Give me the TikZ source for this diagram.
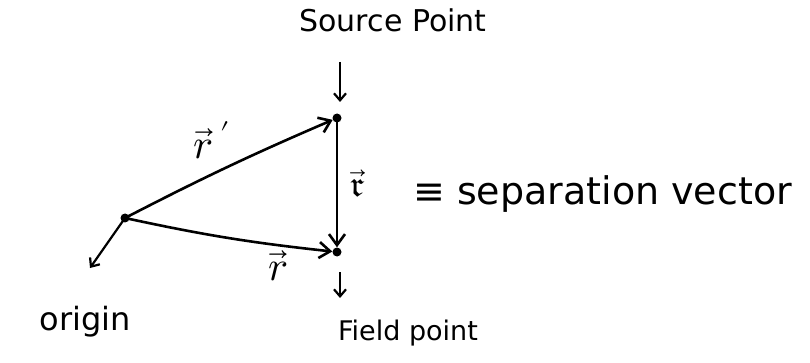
\documentclass[tikz,border=0pt]{standalone}
\usepackage{unicode-math}
\usepackage{fontspec}
\setmainfont{DejaVu Sans}
\usetikzlibrary{arrows.meta}
\begin{document}
\begin{tikzpicture}[x=1pt,y=-1pt,
  vec/.style={line width=2.6pt,-{Straight Barb[length=11pt,width=16pt]}},
  pt/.style={circle,fill=black,inner sep=0pt,minimum size=9pt},
  lbl/.style={font=\fontsize{30}{34}\selectfont,inner sep=1pt},
  mlbl/.style={font=\fontsize{42}{46}\selectfont,inner sep=1pt},
  ptr/.style={line width=2.2pt,-{Straight Barb[length=7pt,width=12pt]}}]
\useasboundingbox (0,0) rectangle (810,363);
\node[pt] (O) at (125,218) {};
\node[pt] (S) at (337,118) {};
\node[pt] (F) at (337,252) {};
\coordinate (Oend) at (90,268);
\coordinate (Stop) at (340,62);
\coordinate (Sbot) at (340,102);
\coordinate (Ftop) at (340,272);
\coordinate (Fbot) at (340,298);
\draw[vec] (O.center) to[bend left=2] (S);
\draw[vec] (O.center) to[bend right=3] (F);
\draw[vec] (S.center) -- (F);
\draw[ptr] (O.center) -- (Oend);
\draw[ptr] (Stop) -- (Sbot);
\draw[ptr] (Ftop) -- (Fbot);
\node[lbl] (src) at (393,20) {Source Point};
\node[lbl,font=\fontsize{27}{30}\selectfont] (fld) at (408,333) {Field point};
\node[lbl,font=\fontsize{32}{36}\selectfont] (org) at (85,322) {origin};
\node[mlbl] (rp) at (212,140) {$\vec{r}\,'$};
\node[mlbl] (r) at (278,266) {$\vec{r}$};
\node[mlbl,font=\fontsize{36}{40}\selectfont] (sr) at (358,184) {$\vec{\mathfrak{r}}$};
\node[lbl,anchor=west,font=\fontsize{38}{42}\selectfont] (sep) at (412,194) {≡ separation vector};
\end{tikzpicture}
\end{document}
